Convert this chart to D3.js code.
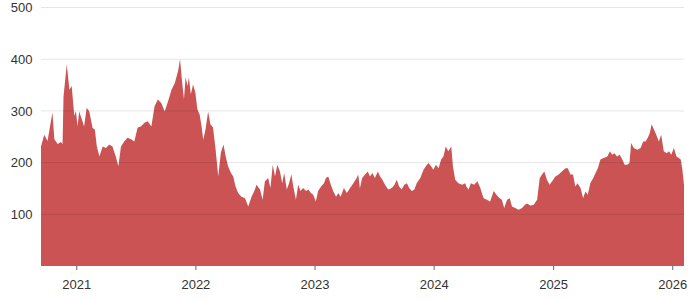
<!DOCTYPE html>
<html>
<head>
<meta charset="utf-8">
<script src="https://cdn.jsdelivr.net/npm/d3@7"></script>
<style>
	body { margin: 0; background: #fff; }
	svg { display: block; font-family: Roboto, "Noto Sans", sans-serif; }
	.axis text { font-size: 13px; fill: #333; }
	.axis--x line { stroke: #666; }
</style>
</head>
<body>
<svg width="700" height="300"></svg>
<script>

let dates = [
	"2020-09-15","2020-09-25","2020-10-05","2020-10-20","2020-10-26","2020-11-05","2020-11-15","2020-11-20","2020-11-23","2020-12-03",
	"2020-12-11","2020-12-18","2020-12-26","2020-12-31","2021-01-05","2021-01-10","2021-01-20","2021-01-25","2021-02-02","2021-02-10",
	"2021-02-20","2021-02-27","2021-03-05","2021-03-13","2021-03-23","2021-04-02","2021-04-12","2021-04-22","2021-05-02","2021-05-10",
	"2021-05-18","2021-05-28","2021-06-07","2021-06-18","2021-06-28","2021-07-08","2021-07-18","2021-07-29","2021-08-08","2021-08-19",
	"2021-08-29","2021-09-08","2021-09-19","2021-09-29","2021-10-09","2021-10-20","2021-10-30","2021-11-09","2021-11-15","2021-11-21",
	"2021-11-27","2021-12-02","2021-12-08","2021-12-12","2021-12-18","2021-12-25","2022-01-01","2022-01-07","2022-01-14","2022-01-20",
	"2022-01-25","2022-02-01","2022-02-09","2022-02-16","2022-02-24","2022-03-04","2022-03-12","2022-03-20","2022-03-28","2022-04-04",
	"2022-04-11","2022-04-20","2022-04-27","2022-05-04","2022-05-12","2022-05-22","2022-06-02","2022-06-12","2022-06-22","2022-07-02",
	"2022-07-07","2022-07-18","2022-07-26","2022-08-02","2022-08-12","2022-08-19","2022-08-26","2022-09-02","2022-09-09","2022-09-17",
	"2022-09-24","2022-09-30","2022-10-08","2022-10-15","2022-10-22","2022-10-28","2022-11-05","2022-11-12","2022-11-19","2022-11-27",
	"2022-12-06","2022-12-13","2022-12-21","2022-12-28","2023-01-05","2023-01-12","2023-01-21","2023-01-30","2023-02-05","2023-02-12",
	"2023-02-20","2023-02-27","2023-03-08","2023-03-15","2023-03-22","2023-04-01","2023-04-10","2023-04-20","2023-04-30","2023-05-10",
	"2023-05-15","2023-05-20","2023-05-27","2023-06-05","2023-06-13","2023-06-20","2023-06-27","2023-07-05","2023-07-14","2023-07-21",
	"2023-07-28","2023-08-05","2023-08-15","2023-08-26","2023-09-03","2023-09-10","2023-09-17","2023-09-25","2023-10-03","2023-10-11",
	"2023-10-18","2023-10-26","2023-11-03","2023-11-10","2023-11-21","2023-12-01","2023-12-08","2023-12-16","2023-12-24","2023-12-31",
	"2024-01-08","2024-01-16","2024-01-24","2024-01-31","2024-02-07","2024-02-15","2024-02-24","2024-02-29","2024-03-07","2024-03-17",
	"2024-03-28","2024-04-07","2024-04-10","2024-04-17","2024-04-24","2024-05-04","2024-05-14","2024-05-23","2024-06-02","2024-06-12",
	"2024-06-22","2024-07-03","2024-07-11","2024-07-21","2024-07-28","2024-08-04","2024-08-13","2024-08-21","2024-08-28","2024-09-07",
	"2024-09-17","2024-09-28","2024-10-06","2024-10-13","2024-10-23","2024-11-02","2024-11-13","2024-11-21","2024-11-28","2024-12-05",
	"2024-12-13","2024-12-21","2024-12-29","2025-01-08","2025-01-18","2025-01-28","2025-02-08","2025-02-15","2025-02-23","2025-03-03",
	"2025-03-10","2025-03-17","2025-03-26","2025-04-03","2025-04-10","2025-04-17","2025-04-25","2025-05-04","2025-05-11","2025-05-18",
	"2025-05-26","2025-06-05","2025-06-16","2025-06-24","2025-07-01","2025-07-08","2025-07-16","2025-07-24","2025-08-01","2025-08-08",
	"2025-08-16","2025-08-23","2025-08-28","2025-09-05","2025-09-16","2025-09-26","2025-10-04","2025-10-11","2025-10-18","2025-10-24",
	"2025-10-30","2025-11-06","2025-11-13","2025-11-21","2025-11-28","2025-12-06","2025-12-15","2025-12-22","2025-12-29","2026-01-06",
	"2026-01-14","2026-01-21","2026-01-27","2026-02-01","2026-02-06"
];

let prices = [
	231,254,242,297,245,236,240,236,328,390,
	341,348,290,300,270,299,280,270,306,299,
	267,264,231,212,231,228,235,231,212,193,
	231,241,248,245,241,268,270,277,280,270,
	309,322,315,299,318,341,354,377,400,358,
	322,365,348,365,332,351,335,303,293,270,
	244,264,299,274,268,225,173,219,235,212,
	193,180,173,154,141,134,131,115,134,147,
	157,148,128,164,170,151,196,173,196,183,
	160,180,148,160,177,154,128,157,145,151,
	145,148,141,138,125,145,154,160,170,173,
	157,145,134,141,134,151,141,151,160,170,
	177,150,170,177,183,173,180,170,183,173,
	167,157,148,151,157,167,154,148,157,160,
	151,145,148,160,170,186,193,199,193,186,
	196,189,206,212,231,222,231,193,167,160,
	157,160,154,148,160,157,164,151,131,128,
	125,145,138,131,128,112,128,131,115,112,
	109,112,118,121,117,118,128,170,177,183,
	167,157,164,173,177,183,189,189,177,177,
	154,160,151,131,144,138,160,170,180,189,
	206,209,212,222,215,218,212,215,206,196,
	196,199,238,228,225,228,241,241,248,257,
	274,264,254,241,254,222,218,222,215,228,
	212,209,206,186,157
];

let yTicks = [ 100, 200, 300, 400, 500 ];
let xTicks = [ "2021-01-01", "2022-01-01", "2023-01-01", "2024-01-01", "2025-01-01", "2026-01-01" ];

let svg = d3.select( "svg" )
	,margin = { top: 7.5, right: 16, bottom: 34, left: 41 }
	,w = +svg.attr( "width" ) - margin.left - margin.right
	,h = +svg.attr( "height" ) - margin.top - margin.bottom
	,g = svg.append( "g" ).attr( "transform", "translate(" + margin.left + "," + margin.top + ")" );

let parse = d3.timeParse( "%Y-%m-%d" );
let data = dates.map( ( d, i ) => { return { date: parse( d ), v: prices[ i ] }; });

let x = d3.scaleTime()
	.domain( d3.extent( data, d => d.date ) )
	.range( [ 0, w ] );
let y = d3.scaleLinear()
	.domain( [ 0, 500 ] )
	.range( [ h, 0 ] );

let area = d3.area()
	.x( d => { return x( d.date ); })
	.y0( h )
	.y1( d => { return y( d.v ); });

g.append( "path" )
	.datum( data )
	.attr( "d", area )
	.attr( "fill", "#cb5353" );

// grid sits on top of the area so it shows through as a darker line
g.append( "g" )
	.selectAll( "line" )
	.data( yTicks )
	.enter().append( "line" )
	.attr( "x1", 0 )
	.attr( "x2", w )
	.attr( "y1", d => y( d ) )
	.attr( "y2", d => y( d ) )
	.attr( "stroke", "rgba(0,0,0,0.1)" )
	.attr( "stroke-width", 1 );

let axisy = d3.axisLeft( y )
	.tickValues( yTicks )
	.tickSize( 0 )
	.tickPadding( 8.5 );
g.append( "g" )
	.attr( "class", "axis axis--y" )
	.call( axisy )
	.call( s => s.select( ".domain" ).remove() );

let axisx = d3.axisBottom( x )
	.tickValues( xTicks.map( parse ) )
	.tickFormat( d3.timeFormat( "%Y" ) )
	.tickSize( 4 )
	.tickPadding( 10 );
g.append( "g" )
	.attr( "class", "axis axis--x" )
	.attr( "transform", "translate(0," + h + ")" )
	.call( axisx )
	.call( s => s.select( ".domain" ).remove() );

</script>
</body>
</html>
